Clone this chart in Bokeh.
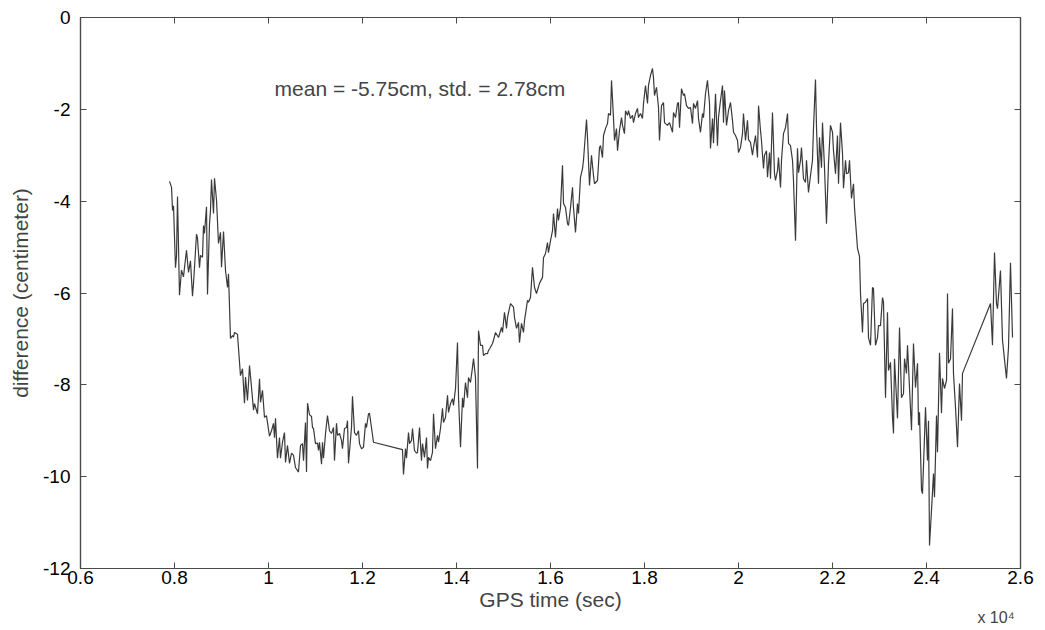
from bokeh.plotting import figure
from bokeh.models import Range1d, FixedTicker, LinearAxis, Label, Title
from bokeh.embed import file_html
from bokeh.resources import INLINE

# GPS time (sec) and difference (cm)
time_s = [
    7894, 7937, 7958, 7979, 8021, 8043, 8064, 8106, 8149, 8191, 8255, 8298, 8340, 8383, 8404,
    8468, 8489, 8532, 8553, 8596, 8617, 8638, 8681, 8702, 8745, 8766, 8787, 8830, 8851, 8894,
    8936, 8979, 9000, 9043, 9085, 9128, 9149, 9191, 9234, 9255, 9277, 9340, 9404, 9447, 9489,
    9511, 9553, 9596, 9638, 9681, 9702, 9766, 9809, 9830, 9872, 9915, 9957, 10021, 10064, 10106,
    10128, 10149, 10191, 10234, 10255, 10298, 10340, 10362, 10404, 10447, 10489, 10532, 10574,
    10638, 10681, 10723, 10745, 10787, 10809, 10830, 10872, 10915, 10936, 10957, 11000, 11043,
    11064, 11085, 11128, 11149, 11170, 11213, 11255, 11298,
    11340, 11383, 11404, 11447, 11468, 11511, 11553, 11574, 11617, 11660, 11681, 11702, 11766,
    11787, 11830, 11872, 11915, 11936, 11979, 12021, 12064, 12085, 12128, 12149, 12191, 12234,
    12851, 12872, 12915, 12936, 12979, 13000, 13043, 13064, 13106, 13149, 13170, 13213, 13255,
    13277, 13319, 13362, 13383, 13404, 13447, 13489, 13511, 13553, 13596, 13617, 13660, 13702,
    13723, 13766, 13809, 13830, 13872, 13915, 13936, 13979, 14021, 14043, 14085, 14128, 14149,
    14191, 14234, 14255, 14298, 14340, 14362, 14404, 14447, 14468, 14511, 14553, 14574, 14617,
    14660, 14681, 14702, 14766, 14787, 14830, 14872, 14894, 14957, 14979, 15021, 15064, 15085,
    15149, 15213, 15234, 15277, 15319, 15340, 15383, 15426, 15447, 15511, 15532, 15574, 15617,
    15660, 15702, 15766, 15830, 15851, 15894, 15936, 15957, 16000, 16043, 16064, 16106, 16149,
    16170, 16213, 16255, 16277, 16319, 16362, 16383, 16426, 16468, 16489, 16532, 16574, 16596,
    16638, 16681, 16702, 16766, 16787, 16830, 16872, 16915, 16936, 17000, 17043, 17064, 17106,
    17128, 17170, 17213, 17234, 17277, 17298, 17340, 17362, 17404, 17426, 17468, 17511, 17532,
    17574, 17596, 17638, 17660, 17702, 17745, 17766, 17809, 17851, 17872, 17915, 17957, 17979,
    18021, 18064, 18085, 18128, 18170, 18191, 18213, 18255, 18298, 18319, 18362, 18404, 18426,
    18489, 18532,
    18596, 18617, 18660, 18702, 18723, 18745, 18787, 18830, 18851, 18894, 18936, 18979, 19021,
    19043, 19085, 19128, 19149, 19191, 19234, 19255, 19298, 19340, 19383, 19404, 19447, 19468,
    19511, 19553, 19574, 19617, 19660, 19681, 19702, 19745, 19787, 19830, 19872, 19894, 19936,
    19979, 20000, 20043, 20085, 20106, 20149, 20191, 20213, 20255, 20298, 20319, 20362, 20404,
    20426, 20468, 20489, 20532, 20553, 20596, 20617, 20660, 20681, 20723, 20766, 20787, 20830,
    20851, 20894, 20915, 20957, 21000, 21043, 21064, 21106, 21149, 21170, 21213, 21255, 21277,
    21319, 21340, 21383, 21426, 21447, 21489, 21532, 21574, 21596, 21638, 21660, 21702, 21723,
    21766, 21787, 21830, 21872, 21915, 21957, 22000, 22021, 22064, 22106, 22128, 22170, 22213,
    22234, 22277, 22298, 22340, 22362, 22404, 22447, 22468, 22532, 22574,
    22596, 22638, 22660, 22702, 22745, 22766, 22809, 22851, 22872, 22915, 22957, 22979, 23021,
    23064, 23085, 23128, 23170, 23191, 23234, 23277, 23298, 23319, 23383, 23426, 23468, 23511,
    23532, 23574, 23596, 23638, 23681, 23723, 23766, 23809, 23830, 23851, 23894, 23915, 23957,
    23979, 24021, 24043, 24064, 24106, 24149, 24170, 24213, 24234, 24277, 24319, 24340, 24383,
    24426, 24447, 24468, 24511, 24553, 24574, 24617, 24660, 24702, 24745, 24766,
    25362, 25404, 25447, 25489, 25511, 25574, 25617, 25702, 25745, 25787, 25830,
]

diff_cm = [
    -3.57, -3.70, -4.20, -4.10, -5.45, -5.20, -3.90, -6.05, -5.50, -5.65, -5.07, -5.55, -5.30, -6.07, -5.80,
    -4.72, -4.80, -5.45, -5.18, -5.22, -4.53, -4.70, -4.12, -6.03, -4.49, -4.20, -3.53, -4.27, -3.50, -3.98,
    -4.92, -4.68, -5.44, -4.66, -5.51, -5.88, -5.58, -6.99, -6.93, -6.96, -6.86, -6.90, -7.80, -7.65, -8.40,
    -7.83, -8.34, -7.58, -8.05, -8.55, -8.41, -8.63, -7.87, -8.38, -8.12, -8.71, -8.67, -9.12, -9.00, -8.84,
    -9.15, -8.73, -9.60, -9.15, -9.60, -9.25, -9.04, -9.69, -9.32, -9.71, -9.49, -9.53, -9.80,
    -9.90, -9.32, -9.28, -9.65, -8.82, -9.90, -8.40, -8.65, -8.69, -8.93, -8.95, -9.28, -9.27,
    -9.43, -9.25, -9.73, -9.25, -9.60, -9.06, -8.67, -9.00,
    -9.06, -8.93, -9.65, -8.84, -9.10, -9.06, -9.21, -9.39, -8.95, -8.93, -8.78, -9.71, -8.93,
    -8.25, -9.04, -9.10, -9.00, -9.28, -9.39, -9.36, -8.84, -8.93, -8.63, -8.62, -8.93, -9.25,
    -9.41, -9.95, -9.39, -9.60, -9.04, -9.28, -9.21, -8.95, -9.43, -9.49, -9.47, -8.93, -9.65,
    -9.28, -9.58, -9.15, -9.82, -9.58, -9.65, -9.47, -8.63, -9.39, -9.10, -9.25, -8.95, -8.51,
    -8.82, -8.71, -8.23, -8.60, -8.41, -8.30, -8.45, -8.08, -7.08, -8.28, -9.36, -8.28, -8.49,
    -7.95, -8.28, -7.84, -7.95, -7.62, -7.43, -7.84, -9.82, -6.82, -7.14, -7.14, -7.36, -7.32,
    -7.32, -7.25, -7.22, -7.10, -7.03, -6.86, -6.93, -6.97, -6.75, -6.86, -6.42, -6.77, -6.53,
    -6.23, -6.31, -6.53, -6.77, -6.64, -7.08, -6.66, -6.86, -6.60, -6.16, -6.20, -6.10, -5.44,
    -5.88, -6.01, -5.79, -5.66, -5.23, -5.14, -4.90, -5.12, -4.86, -4.64, -4.27, -4.79, -4.16,
    -4.42, -4.14, -3.22, -4.05, -4.14, -4.49, -4.53, -4.14, -3.70, -4.14, -4.68, -4.05, -4.27,
    -3.48, -3.29, -3.11, -2.22, -2.61, -3.66, -3.00, -3.44, -3.62, -3.55, -2.83, -2.79, -3.05,
    -2.57, -2.42, -2.31, -2.09, -2.13, -1.37, -2.18, -2.68, -2.42, -2.90, -2.46, -2.18, -2.35,
    -2.53, -2.03, -2.13, -2.03, -2.20, -2.13, -2.29, -2.09, -1.98, -2.18, -2.09, -2.20, -1.87,
    -1.48, -1.87, -1.48, -1.26, -1.11, -1.31, -1.70, -1.52, -1.96, -2.68, -1.92, -1.85, -2.29,
    -2.35, -2.29,
    -2.50, -2.07, -2.18, -1.87, -1.85, -2.40, -1.55, -1.70, -1.66, -1.92, -1.98, -1.96, -2.31,
    -1.87, -1.98, -1.81, -2.20, -2.50, -2.09, -2.18, -1.66, -1.37, -1.87, -2.85, -2.20, -2.74,
    -1.66, -2.79, -2.18, -1.81, -1.48, -2.29, -1.59, -2.35, -2.03, -1.85, -2.24, -2.50, -2.57,
    -2.68, -2.94, -2.83, -2.53, -2.09, -2.68, -2.24, -2.66, -2.72, -3.00, -2.83, -2.57, -3.05,
    -1.92, -2.46, -2.68, -3.29, -3.00, -2.90, -3.48, -2.94, -3.51, -2.07, -3.40, -3.55, -3.33,
    -3.05, -3.70, -3.11, -2.53, -2.40, -2.09, -2.74, -2.79, -3.11, -3.55, -4.86, -2.85, -3.38,
    -3.11, -2.83, -3.51, -3.59, -3.11, -3.81, -3.44, -3.11, -2.40, -1.35, -2.40, -3.62, -2.61,
    -3.27, -2.29, -3.27, -4.49, -3.18, -2.35, -2.50, -2.90, -3.40, -2.57, -3.62, -2.29, -2.96,
    -3.72, -3.11, -3.40, -3.38, -3.11, -3.94, -3.62, -4.14, -5.03, -5.20,
    -6.01, -6.86, -6.23, -6.20, -6.12, -6.97, -7.14, -5.88, -5.90, -7.14, -6.97, -6.71, -6.71,
    -6.10, -6.20, -8.28, -6.42, -7.69, -7.51, -8.71, -9.06, -7.43, -8.73, -6.75, -8.28, -8.19,
    -7.43, -7.75, -7.14, -8.06, -8.99, -7.10, -8.06, -7.53, -8.88, -8.60, -10.30, -10.37, -9.15,
    -8.49, -9.65, -8.78, -11.50, -10.74, -9.93, -10.45, -8.67, -9.47, -7.30, -8.62, -7.86, -8.08,
    -7.90, -6.01, -7.53, -7.43, -6.34, -7.75, -8.49, -9.36, -7.97, -8.78, -7.75,
    -6.23, -7.14, -5.12, -6.23, -6.34, -5.51, -7.03, -7.86, -7.18, -5.34, -6.97,
]

x_ticks = [6000, 8000, 10000, 12000, 14000, 16000, 18000, 20000, 22000, 24000, 26000]
x_tick_labels = ["0.6", "0.8", "1", "1.2", "1.4", "1.6", "1.8", "2", "2.2", "2.4", "2.6"]
y_ticks = [0, -2, -4, -6, -8, -10, -12]
y_tick_labels = ["0", "-2", "-4", "-6", "-8", "-10", "-12"]

FONT = "Liberation Sans"
AXC = "#4a4a4a"

p = figure(frame_width=940, frame_height=551, output_backend="svg", toolbar_location=None,
           x_range=Range1d(6000, 26000), y_range=Range1d(-12, 0),
           min_border_left=80, min_border_right=25, min_border_top=17, min_border_bottom=62)
p.background_fill_color = "white"
p.border_fill_color = "white"
p.grid.visible = False
p.outline_line_color = AXC
p.outline_line_width = 1.2

p.line(time_s, diff_cm, line_color="#3a3a3a", line_width=1.2)

def style(ax, ticks, labels, show_labels=True):
    ax.ticker = FixedTicker(ticks=ticks)
    ax.major_label_overrides = {t: l for t, l in zip(ticks, labels)}
    ax.major_tick_in = 6
    ax.major_tick_out = 0
    ax.minor_tick_line_color = None
    ax.axis_line_color = AXC
    ax.major_tick_line_color = AXC
    ax.axis_line_width = 1.2
    ax.major_label_text_font = FONT
    ax.major_label_text_font_size = "19px" if show_labels else "0px"
    ax.major_label_text_color = "black"
    ax.major_label_text_line_height = 1.0
    if not show_labels:
        ax.major_label_standoff = 0

xa = p.xaxis[0]
style(xa, x_ticks, x_tick_labels)
xa.major_label_standoff = 2
xa.axis_label = "GPS time (sec)"
xa.axis_label_text_font = FONT
xa.axis_label_text_font_size = "21px"
xa.axis_label_text_font_style = "normal"
xa.axis_label_text_line_height = 1.0
xa.axis_label_standoff = 1

ya = p.yaxis[0]
style(ya, y_ticks, y_tick_labels)
ya.major_label_standoff = 10
ya.axis_label = "difference (centimeter)"
ya.axis_label_text_font = FONT
ya.axis_label_text_font_size = "21px"
ya.axis_label_text_font_style = "normal"
ya.axis_label_standoff = 8

top = LinearAxis()
style(top, x_ticks, [""] * len(x_ticks), show_labels=False)
p.add_layout(top, "above")
right = LinearAxis()
style(right, y_ticks, [""] * len(y_ticks), show_labels=False)
p.add_layout(right, "right")

# axis multiplier, right-aligned under the x-axis title
p.add_layout(Title(text="x 10\u2074", align="right", vertical_align="top", text_font=FONT,
                   text_font_size="16px", text_font_style="normal", text_line_height=1.0,
                   standoff=-10, offset=6), "below")

p.add_layout(Label(x=10130, y=-1.55, text="mean = -5.75cm, std. = 2.78cm", text_font=FONT,
                   text_font_size="21px", text_align="left", text_baseline="middle"))

open("out.html", "w").write(file_html(p, INLINE))
